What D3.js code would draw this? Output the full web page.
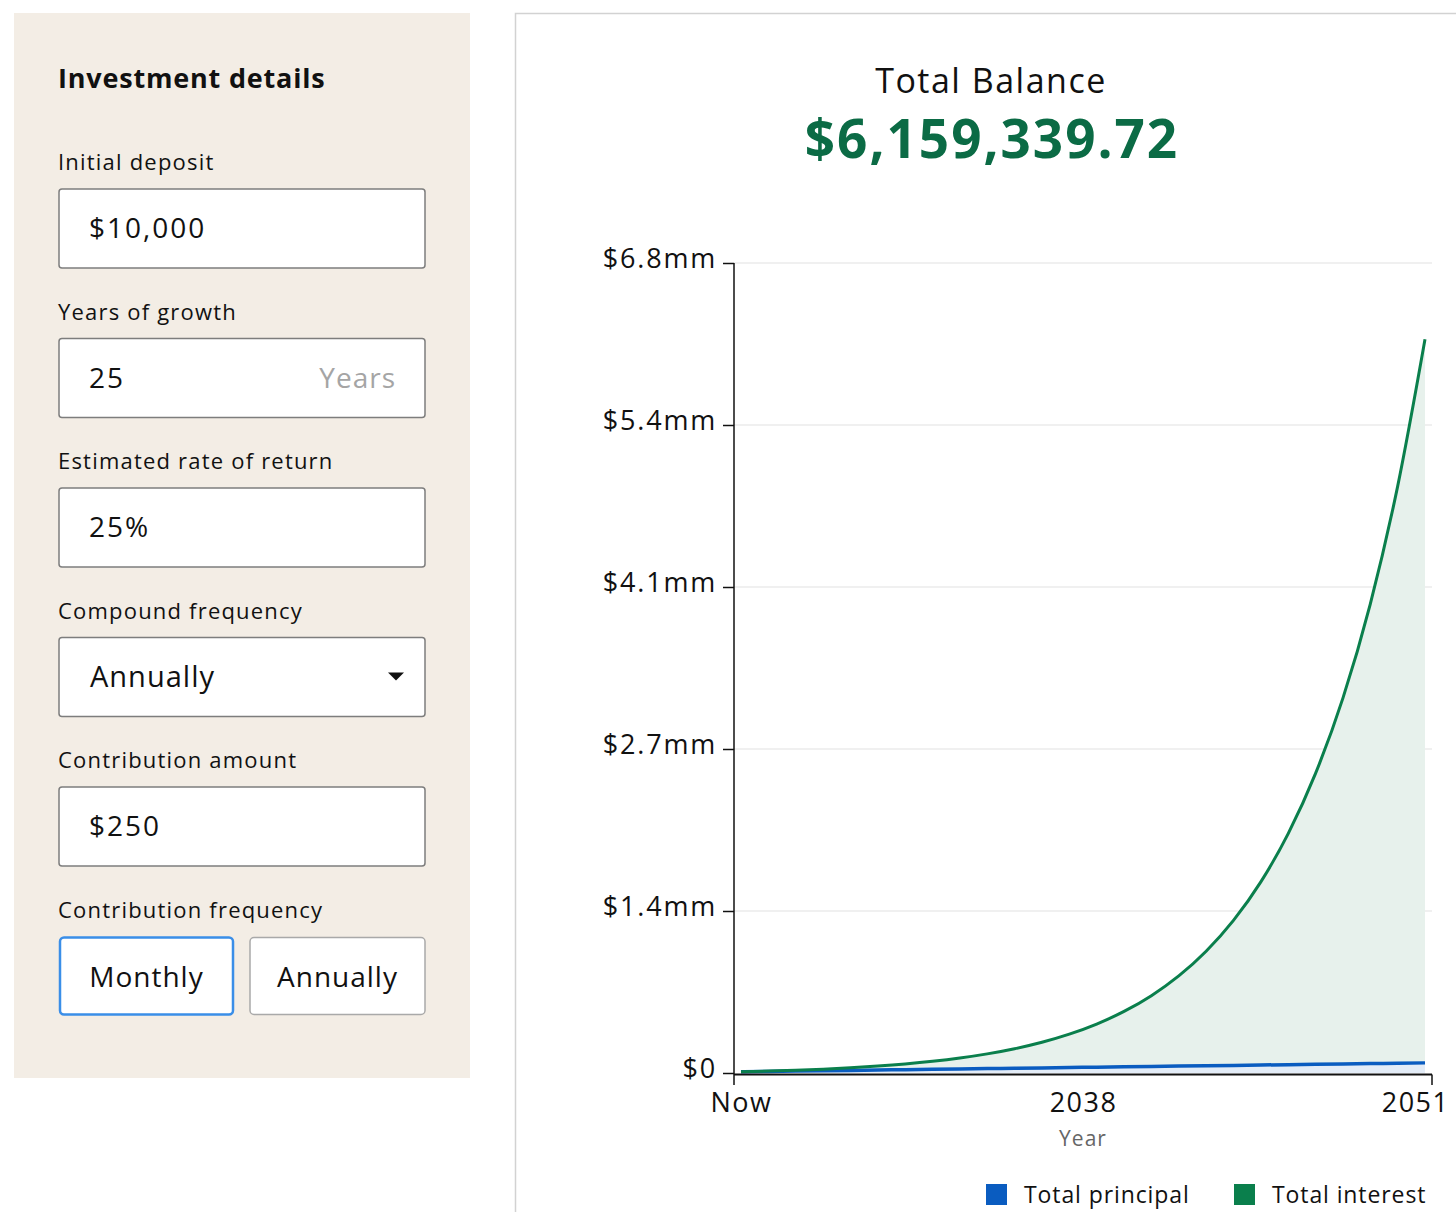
<!DOCTYPE html>
<html>
<head>
<meta charset="utf-8">
<script src="https://cdn.jsdelivr.net/npm/d3@7"></script>
<style>
  html, body { margin: 0; padding: 0; background: #fff; }
  svg { display: block; font-family: "Open Sans", "Noto Sans", sans-serif; }
</style>
</head>
<body>
<svg id="chart" width="1456" height="1212"></svg>
<script>
// ---------- data ----------
const yearIndex = [0,1,2,3,4,5,6,7,8,9,10,11,12,13,14,15,16,17,18,19,20,21,22,23,24,25];
const totalBalance = [10000,15830,23118,32227,43614,57847,75639,97878,125678,160428,203864,258161,
  326031,410868,516915,649474,815173,1022296,1281200,1604830,2009368,2515040,3147130,3937242,4924882,6159340];
const totalPrincipal = [10000,13000,16000,19000,22000,25000,28000,31000,34000,37000,40000,43000,
  46000,49000,52000,55000,58000,61000,64000,67000,70000,73000,76000,79000,82000,85000];
const yTickValues = [0,1360000,2720000,4080000,5440000,6800000];
const yTickLabels = ["$0","$1.4mm","$2.7mm","$4.1mm","$5.4mm","$6.8mm"];
const xTickValues = [0,12.5,25];
const xTickLabels = ["Now","2038","2051"];
const legendLabels = ["Total principal","Total interest"];
const balanceTitle = "Total Balance";
const balanceValue = "$6,159,339.72";
const formFields = [
  {label:"Initial deposit", value:"$10,000", suffix:""},
  {label:"Years of growth", value:"25", suffix:"Years"},
  {label:"Estimated rate of return", value:"25%", suffix:""},
  {label:"Compound frequency", value:"Annually", suffix:"", select:true},
  {label:"Contribution amount", value:"$250", suffix:""}
];
const freqButtons = ["Monthly","Annually"];

// ---------- styles ----------
const C = {
  panel:"#f3ede5", green:"#0a7f4c", greenDark:"#0b6b45", blue:"#0a5cc0",
  greenFill:"#e7f1ec", blueFill:"#e3ecf7", grid:"#ebebeb", text:"#111"
};

const svg = d3.select("#chart");

// ---------- left form panel ----------
svg.append("rect").attr("x",14).attr("y",13).attr("width",456).attr("height",1065).attr("fill",C.panel);
svg.append("text").attr("x",58).attr("y",88).attr("font-size",27).attr("font-weight",700)
  .attr("letter-spacing",0.8).attr("fill",C.text).text("Investment details");

formFields.forEach((f,i)=>{
  const top = 189 + i*149.5;
  svg.append("text").attr("x",58).attr("y",top-19).attr("font-size",22).attr("letter-spacing",1.2)
    .attr("fill",C.text).text(f.label);
  svg.append("rect").attr("x",59).attr("y",top).attr("width",366).attr("height",79).attr("rx",3)
    .attr("fill","#fff").attr("stroke","#7d7d7d").attr("stroke-width",1.5);
  svg.append("text").attr("x",f.select?90:89).attr("y",top+49).attr("font-size",f.select?29:28)
    .attr("letter-spacing",f.select?1:2).attr("fill",C.text).text(f.value);
  if (f.suffix) {
    svg.append("text").attr("x",396).attr("y",top+49).attr("font-size",28).attr("text-anchor","end")
      .attr("letter-spacing",1).attr("fill","#a5a5a5").text(f.suffix);
  }
  if (f.select) {
    const cy = top + 39;
    svg.append("path").attr("d",`M${388},${cy-4}L${404},${cy-4}L${396},${cy+4}Z`).attr("fill","#111");
  }
});
svg.append("text").attr("x",58).attr("y",918).attr("font-size",22).attr("letter-spacing",1.2)
  .attr("fill",C.text).text("Contribution frequency");
freqButtons.forEach((b,i)=>{
  const x0 = i===0 ? 60 : 250, w = i===0 ? 173 : 175;
  svg.append("rect").attr("x",x0).attr("y",937.5).attr("width",w).attr("height",77).attr("rx",4)
    .attr("fill","#fff").attr("stroke",i===0?"#3a8ee8":"#a9a9a9").attr("stroke-width",i===0?2.5:1.5);
  svg.append("text").attr("x",x0+w/2).attr("y",987).attr("text-anchor","middle").attr("font-size",28)
    .attr("letter-spacing",1).attr("fill",C.text).text(b);
});

// ---------- right chart panel ----------
svg.append("rect").attr("x",515.5).attr("y",13.5).attr("width",1100).attr("height",1300)
  .attr("fill","#fff").attr("stroke","#d2d2d2").attr("stroke-width",1.5);

svg.append("text").attr("x",991).attr("y",93).attr("text-anchor","middle").attr("font-size",34)
  .attr("letter-spacing",1.5).attr("fill",C.text).text(balanceTitle);
svg.append("text").attr("x",992).attr("y",158).attr("text-anchor","middle").attr("font-size",53)
  .attr("letter-spacing",2).attr("font-weight",700).attr("fill",C.greenDark).text(balanceValue);

const x = d3.scaleLinear().domain([0,25]).range([741,1425]);
const y = d3.scaleLinear().domain([0,6800000]).range([1073,263]);
const axL = 734, axR = 1432;

// gridlines
svg.append("g").selectAll("line").data(yTickValues.slice(1)).join("line")
  .attr("x1",axL).attr("x2",axR).attr("y1",d=>y(d)).attr("y2",d=>y(d))
  .attr("stroke",C.grid).attr("stroke-width",1.5);

// areas
const rows = yearIndex.map((t,i)=>({t, bal: totalBalance[i], pr: totalPrincipal[i]}));
svg.append("path").datum(rows).attr("fill",C.greenFill)
  .attr("d", d3.area().x(d=>x(d.t)).y0(d=>y(d.pr)).y1(d=>y(d.bal)).curve(d3.curveMonotoneX));
svg.append("path").datum(rows).attr("fill",C.blueFill)
  .attr("d", d3.area().x(d=>x(d.t)).y0(y(0)).y1(d=>y(d.pr)).curve(d3.curveMonotoneX));

// lines
svg.append("path").datum(rows).attr("fill","none").attr("stroke",C.blue).attr("stroke-width",3.5)
  .attr("d", d3.line().x(d=>x(d.t)).y(d=>y(d.pr)).curve(d3.curveMonotoneX));
svg.append("path").datum(rows).attr("fill","none").attr("stroke",C.green).attr("stroke-width",3)
  .attr("d", d3.line().x(d=>x(d.t)).y(d=>y(d.bal)).curve(d3.curveMonotoneX));

// y axis
const yAxis = svg.append("g").attr("transform",`translate(${axL},0)`)
  .call(d3.axisLeft(y).tickValues(yTickValues).tickFormat((d,i)=>yTickLabels[i]).tickSize(11).tickPadding(6).tickSizeOuter(0));
yAxis.select(".domain").remove();
yAxis.selectAll("line").attr("stroke","#111").attr("stroke-width",1.5);
yAxis.selectAll("text").attr("font-size",27).attr("letter-spacing",1.8).attr("fill","#111")
  .attr("font-family","\"Open Sans\", sans-serif").attr("dy","0.15em");
svg.append("line").attr("x1",axL).attr("x2",axL).attr("y1",y(6800000)).attr("y2",1085)
  .attr("stroke","#111").attr("stroke-width",1.5);

// x axis
const xAxis = svg.append("g").attr("transform",`translate(0,${y(0)+1})`)
  .call(d3.axisBottom(x).tickValues(xTickValues).tickFormat((d,i)=>xTickLabels[i]).tickSize(0).tickPadding(18));
xAxis.select(".domain").remove();
xAxis.selectAll("text").attr("font-size",27).attr("letter-spacing",1.5).attr("fill","#111")
  .attr("font-family","\"Open Sans\", sans-serif").attr("dy","0.75em");
xAxis.selectAll(".tick").filter((d,i)=>i===xTickValues.length-1).select("text")
  .attr("text-anchor","end").attr("x",24);
svg.append("line").attr("x1",axL).attr("x2",axR).attr("y1",y(0)+1.5).attr("y2",y(0)+1.5)
  .attr("stroke","#111").attr("stroke-width",2);
svg.append("line").attr("x1",axR).attr("x2",axR).attr("y1",y(0)+1.5).attr("y2",1085)
  .attr("stroke","#111").attr("stroke-width",1.5);

svg.append("text").attr("x",x(12.5)).attr("y",1146).attr("text-anchor","middle").attr("font-size",21)
  .attr("letter-spacing",1).attr("fill","#666").text("Year");

// legend
const legendColors = [C.blue, C.green];
const legendX = [986, 1234];
legendLabels.forEach((l,i)=>{
  svg.append("rect").attr("x",legendX[i]).attr("y",1184).attr("width",21).attr("height",21).attr("fill",legendColors[i]);
  svg.append("text").attr("x",legendX[i]+38).attr("y",1203).attr("font-size",23).attr("letter-spacing",0.9)
    .attr("fill","#111").text(l);
});
</script>
</body>
</html>
